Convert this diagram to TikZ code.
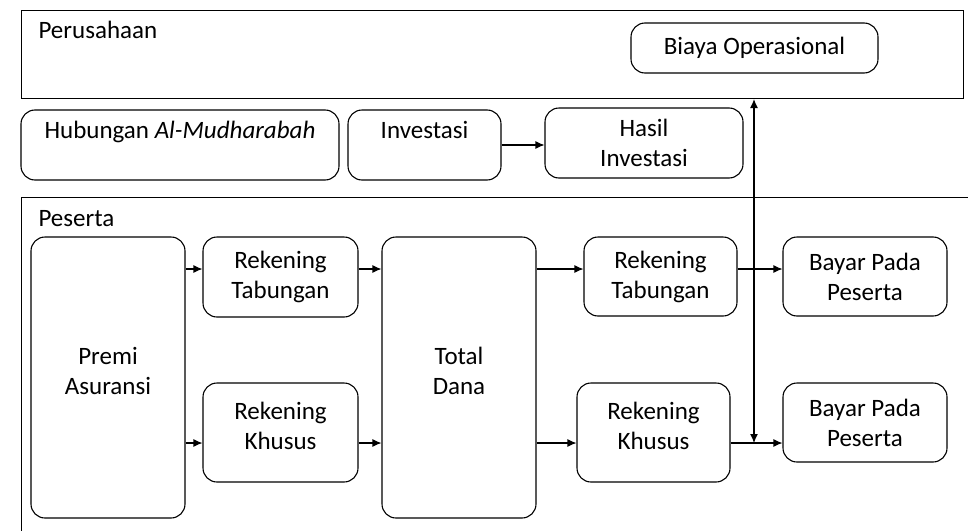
\documentclass[tikz,border=0pt]{standalone}
\usepackage{fontspec}
\setmainfont{Carlito}
\usetikzlibrary{arrows.meta, positioning}

\begin{document}
\begin{tikzpicture}[x=1pt, y=-1pt, line width=1.1pt,
    >={Latex[length=9pt, width=8pt]},
    frame/.style={rectangle, draw, anchor=north west, inner sep=0pt},
    stage/.style={rectangle, draw, rounded corners=14pt, align=center, inner sep=2pt, font=\fontsize{25}{30}\selectfont},
    raised/.style={text depth=14pt},
    caption/.style={anchor=north west, inner sep=0pt, font=\fontsize{25}{30}\selectfont},
    flow/.style={->}
]
    \clip (0,0) rectangle (968,530);

    % perusahaan
    \node[frame, minimum width=942pt, minimum height=88pt] (comp) at (21,10) {};
    \node[caption] (compcap) at (38,21) {Perusahaan};
    \node[stage, minimum width=247pt, minimum height=50pt] (biaya) at (754.5,48) {Biaya Operasional};

    % middle row
    \node[stage, minimum width=318pt, minimum height=70pt] (hub) at (180,145) {Hubungan \textit{Al-Mudharabah}\\\mbox{}};
    \node[stage, minimum width=153pt, minimum height=70pt] (inv) at (424.5,145) {Investasi\\\mbox{}};
    \node[stage, minimum width=198pt, minimum height=70pt] (hasil) at (644,143) {Hasil\\Investasi};

    % peserta
    \node[frame, minimum width=960pt, minimum height=345pt] (part) at (21,197) {};
    \node[caption] (partcap) at (38,210) {Peserta};
    \node[stage, raised, minimum width=154pt, minimum height=281pt] (premi) at (108,377.5) {Premi\\Asuransi};
    \node[stage, minimum width=155pt, minimum height=80pt] (rtl) at (280.5,277) {Rekening\\Tabungan};
    \node[stage, raised, minimum width=155pt, minimum height=99pt] (rkl) at (280.5,432.5) {Rekening\\Khusus};
    \node[stage, raised, minimum width=154pt, minimum height=281pt] (total) at (459,377.5) {Total\\Dana};
    \node[stage, minimum width=153pt, minimum height=79pt] (rtr) at (660.5,276.5) {Rekening\\Tabungan};
    \node[stage, raised, minimum width=153pt, minimum height=99pt] (rkr) at (653.5,432.5) {Rekening\\Khusus};
    \node[stage, minimum width=164pt, minimum height=79pt] (bpt) at (865,276.5) {Bayar Pada\\Peserta};
    \node[stage, minimum width=164pt, minimum height=79pt] (bpb) at (865,422.5) {Bayar Pada\\Peserta};

    \coordinate (rowA) at (0,269);
    \coordinate (rowB) at (0,443);
    \coordinate (tap) at (754,443);

    \draw[flow] (inv.east) -- (hasil.west |- inv.east);
    \draw[flow] (premi.east |- rowA) -- (rtl.west |- rowA);
    \draw[flow] (premi.east |- rowB) -- (rkl.west |- rowB);
    \draw[flow] (rtl.east |- rowA) -- (total.west |- rowA);
    \draw[flow] (rkl.east |- rowB) -- (total.west |- rowB);
    \draw[flow] (total.east |- rowA) -- (rtr.west |- rowA);
    \draw[flow] (total.east |- rowB) -- (rkr.west |- rowB);
    \draw[flow] (rtr.east |- rowA) -- (bpt.west |- rowA);
    \draw[flow] (rkr.east |- rowB) -- (bpb.west |- rowB);
    \draw[<->] (tap) -- (tap |- comp.south);
\end{tikzpicture}
\end{document}
